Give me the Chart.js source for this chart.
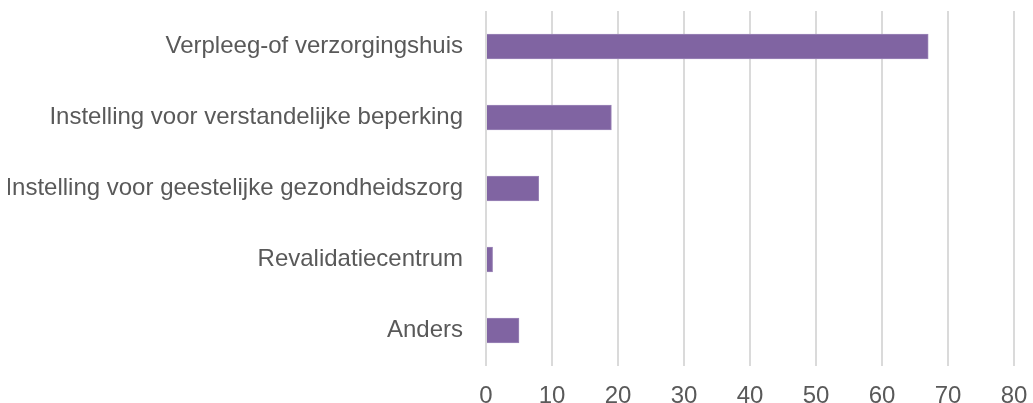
<!DOCTYPE html>
<html>
<head>
<meta charset="utf-8">
<script src="https://cdn.jsdelivr.net/npm/chart.js@4.4.1/dist/chart.umd.min.js"></script>
<style>
  html, body { margin: 0; padding: 0; background: #fff; }
  #wrap { width: 1033px; height: 403px; }
</style>
</head>
<body>
<div id="wrap"><canvas id="bar-chart"></canvas></div>
<script>
// categories and counts
const categories = [
  "Verpleeg-of verzorgingshuis",
  "Instelling voor verstandelijke beperking",
  "Instelling voor geestelijke gezondheidszorg",
  "Revalidatiecentrum",
  "Anders"
];
const counts = [67, 19, 8, 1, 5];
const xTicks = [0, 10, 20, 30, 40, 50, 60, 70, 80];

Chart.defaults.font.family = "'Liberation Sans', Arial, sans-serif";
Chart.defaults.font.size = 24;
Chart.defaults.color = "#595959";

new Chart(document.getElementById("bar-chart"), {
  type: 'bar',
  data: {
    labels: categories,
    datasets: [{
      data: counts,
      backgroundColor: "#8064a2",
      borderColor: "#9c87b8",
      borderWidth: 1,
      barThickness: 25
    }]
  },
  options: {
    indexAxis: 'y',
    responsive: true,
    maintainAspectRatio: false,
    animation: false,
    layout: { padding: { top: 11, right: 19, left: 8, bottom: 0 } },
    plugins: {
      legend: { display: false },
      tooltip: { enabled: false }
    },
    scales: {
      x: {
        min: xTicks[0],
        max: xTicks[xTicks.length - 1],
        ticks: { stepSize: 10, padding: 16 },
        grid: { color: "#dadada", lineWidth: 2, drawTicks: false },
        border: { display: false },
        afterFit: function(scale) {
          scale.height = 37;
          scale.paddingLeft = 0;
          scale.paddingRight = 0;
        }
      },
      y: {
        ticks: { padding: 23 },
        grid: { display: false, drawTicks: false },
        border: { display: false },
        afterFit: function(scale) {
          scale.width = 478;
          scale.paddingTop = 0;
          scale.paddingBottom = 0;
        }
      }
    }
  }
});
</script>
</body>
</html>
